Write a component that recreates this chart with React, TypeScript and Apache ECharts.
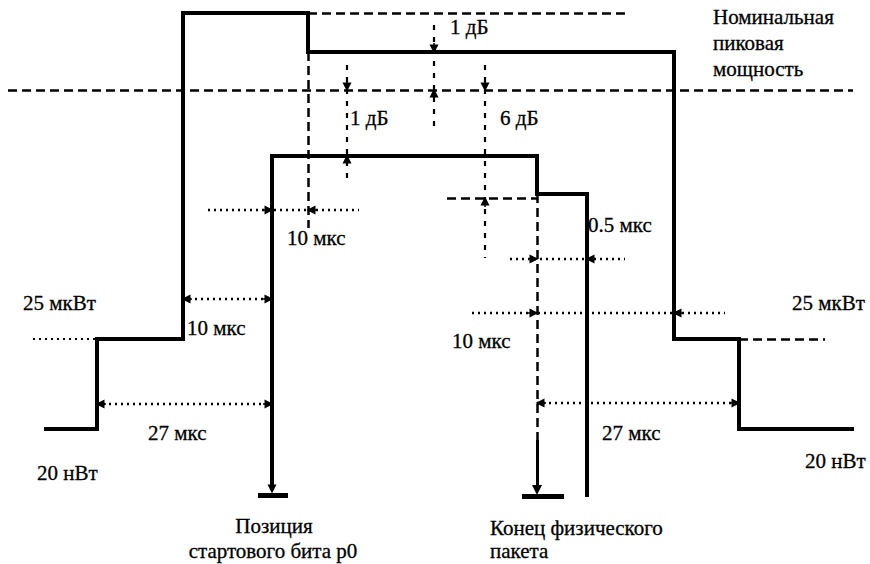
import React, { useEffect, useRef } from "react";
import * as echarts from "echarts";

// Diagram coordinates (x: 0..870, y: 0..564, y downwards)
const envelope = [[44, 429], [97, 429], [97, 339], [183, 339], [183, 13], [308, 13], [308, 52], [674, 52], [674, 339], [739, 339], [739, 429], [854, 429]];
const signal = [[272, 487], [272, 156], [537, 156], [537, 194], [587, 194], [587, 497]];
const bases = [[[258, 495], [288, 495]], [[522, 496], [564, 496]]];
const endMarker = [[537, 440], [537, 490]];

const dashedGuides = [
  [[308, 13], [625, 13]],
  [[8, 90], [853, 90]],
  [[447, 198], [537, 198]],
  [[739, 339], [825, 339]],
  [[308, 52], [308, 228]],
  [[537, 194], [537, 440]],
];
const dottedGuides = [[[33, 339], [97, 339]]];

const verticalDims = [
  [[434, 25], [434, 130]],
  [[347, 65], [347, 182]],
  [[485, 65], [485, 258]],
];
const horizontalDims = [
  [[208, 210], [359, 210]],
  [[510, 259], [625, 259]],
  [[183, 299], [272, 299]],
  [[97, 404], [272, 404]],
  [[472, 313], [725, 313]],
  [[537, 403], [739, 403]],
];

const arrowTips: [number, number, string][] = [
  [434, 52, "down"], [434, 90, "up"],
  [347, 90, "down"], [347, 156, "up"],
  [485, 90, "down"], [485, 198, "up"],
  [272, 210, "right"], [308, 210, "left"],
  [537, 259, "right"], [587, 259, "left"],
  [183, 299, "left"], [272, 299, "right"],
  [97, 404, "left"], [272, 404, "right"],
  [537, 313, "right"], [674, 313, "left"],
  [537, 403, "left"], [739, 403, "right"],
  [272, 492, "down"],
];

const labels: [string, number, number, string][] = [
  ["Номинальная", 713, 17, "left"],
  ["пиковая", 713, 43, "left"],
  ["мощность", 713, 69, "left"],
  ["1 дБ", 450, 27, "left"],
  ["1 дБ", 350, 118, "left"],
  ["6 дБ", 500, 118, "left"],
  ["10 мкс", 287, 238, "left"],
  ["0.5 мкс", 588, 225, "left"],
  ["25 мкВт", 23, 303, "left"],
  ["10 мкс", 187, 328, "left"],
  ["27 мкс", 148, 433, "left"],
  ["20 нВт", 37, 473, "left"],
  ["Позиция", 274, 526, "center"],
  ["стартового бита р0", 273, 551, "center"],
  ["Конец физического", 490, 528, "left"],
  ["пакета", 490, 551, "left"],
  ["25 мкВт", 792, 303, "left"],
  ["10 мкс", 452, 341, "left"],
  ["27 мкс", 602, 433, "left"],
  ["20 нВт", 805, 461, "left"],
];

const DIRS: Record<string, [number, number]> = {
  up: [0, -1], down: [0, 1], left: [-1, 0], right: [1, 0],
};

const FONT = "Liberation Serif";

export default function App() {
  const ref = useRef<HTMLDivElement>(null);
  useEffect(() => {
    document.body.style.margin = "0";
    const chart = echarts.init(ref.current!, null, { renderer: "svg" });
    const seg = (arr: number[][][]) => arr.map((c) => ({ coords: c }));
    const arrowData = arrowTips.map(([x, y, d]) => {
      const [dx, dy] = DIRS[d];
      const back = 3;
      return { coords: [[x - dx * (back + 6), y - dy * (back + 6)], [x - dx * back, y - dy * back]] };
    });
    chart.setOption({
      animation: false,
      backgroundColor: "#ffffff",
      grid: { left: 0, right: 0, top: 0, bottom: 0 },
      xAxis: { type: "value", min: 0, max: 870, show: false },
      yAxis: { type: "value", min: 0, max: 564, inverse: true, show: false },
      series: [
        {
          type: "lines", coordinateSystem: "cartesian2d", z: 1,
          lineStyle: { color: "#000", width: 2.5, type: [9, 5], opacity: 1 },
          data: seg(dashedGuides),
        },
        {
          type: "lines", coordinateSystem: "cartesian2d", z: 1,
          lineStyle: { color: "#000", width: 2.2, type: [2, 4], opacity: 1 },
          data: seg(dottedGuides),
        },
        {
          type: "lines", coordinateSystem: "cartesian2d", z: 1,
          lineStyle: { color: "#000", width: 2.2, type: [5, 7], opacity: 1 },
          data: seg(verticalDims),
        },
        {
          type: "lines", coordinateSystem: "cartesian2d", z: 1,
          lineStyle: { color: "#000", width: 2.4, type: [2, 4], opacity: 1 },
          data: seg(horizontalDims),
        },
        {
          type: "lines", coordinateSystem: "cartesian2d", z: 3,
          symbol: ["none", "triangle"], symbolSize: [7, 9],
          lineStyle: { color: "#000", width: 1.5, opacity: 1 },
          data: arrowData,
        },
        {
          type: "lines", coordinateSystem: "cartesian2d", polyline: true, z: 4,
          lineStyle: { color: "#000", width: 4, opacity: 1, join: "miter" },
          data: [{ coords: envelope }, { coords: signal }],
        },
        {
          type: "lines", coordinateSystem: "cartesian2d", z: 4,
          lineStyle: { color: "#000", width: 5, opacity: 1 },
          data: seg(bases),
        },
        {
          type: "lines", coordinateSystem: "cartesian2d", z: 4,
          symbol: ["none", "triangle"], symbolSize: [8, 10],
          lineStyle: { color: "#000", width: 3, opacity: 1 },
          data: [{ coords: endMarker }],
        },
      ],
    });
    // Place texts at the data coordinates via the chart's own scales
    chart.setOption({
      graphic: labels.map(([t, x, y, a]) => {
        const [px, py] = chart.convertToPixel({ gridIndex: 0 }, [x, y]);
        return {
          type: "text",
          x: px,
          y: py,
          z: 10,
          style: {
            text: t,
            fontFamily: FONT,
            fontSize: 21,
            fill: "#000",
            stroke: "#000",
            lineWidth: 0.3,
            align: a,
            verticalAlign: "middle",
          },
        };
      }),
    });
    return () => chart.dispose();
  }, []);
  return (
    <div
      ref={ref}
      style={{ position: "fixed", left: 0, top: 0, width: 870, height: 564, background: "#fff" }}
    />
  );
}
